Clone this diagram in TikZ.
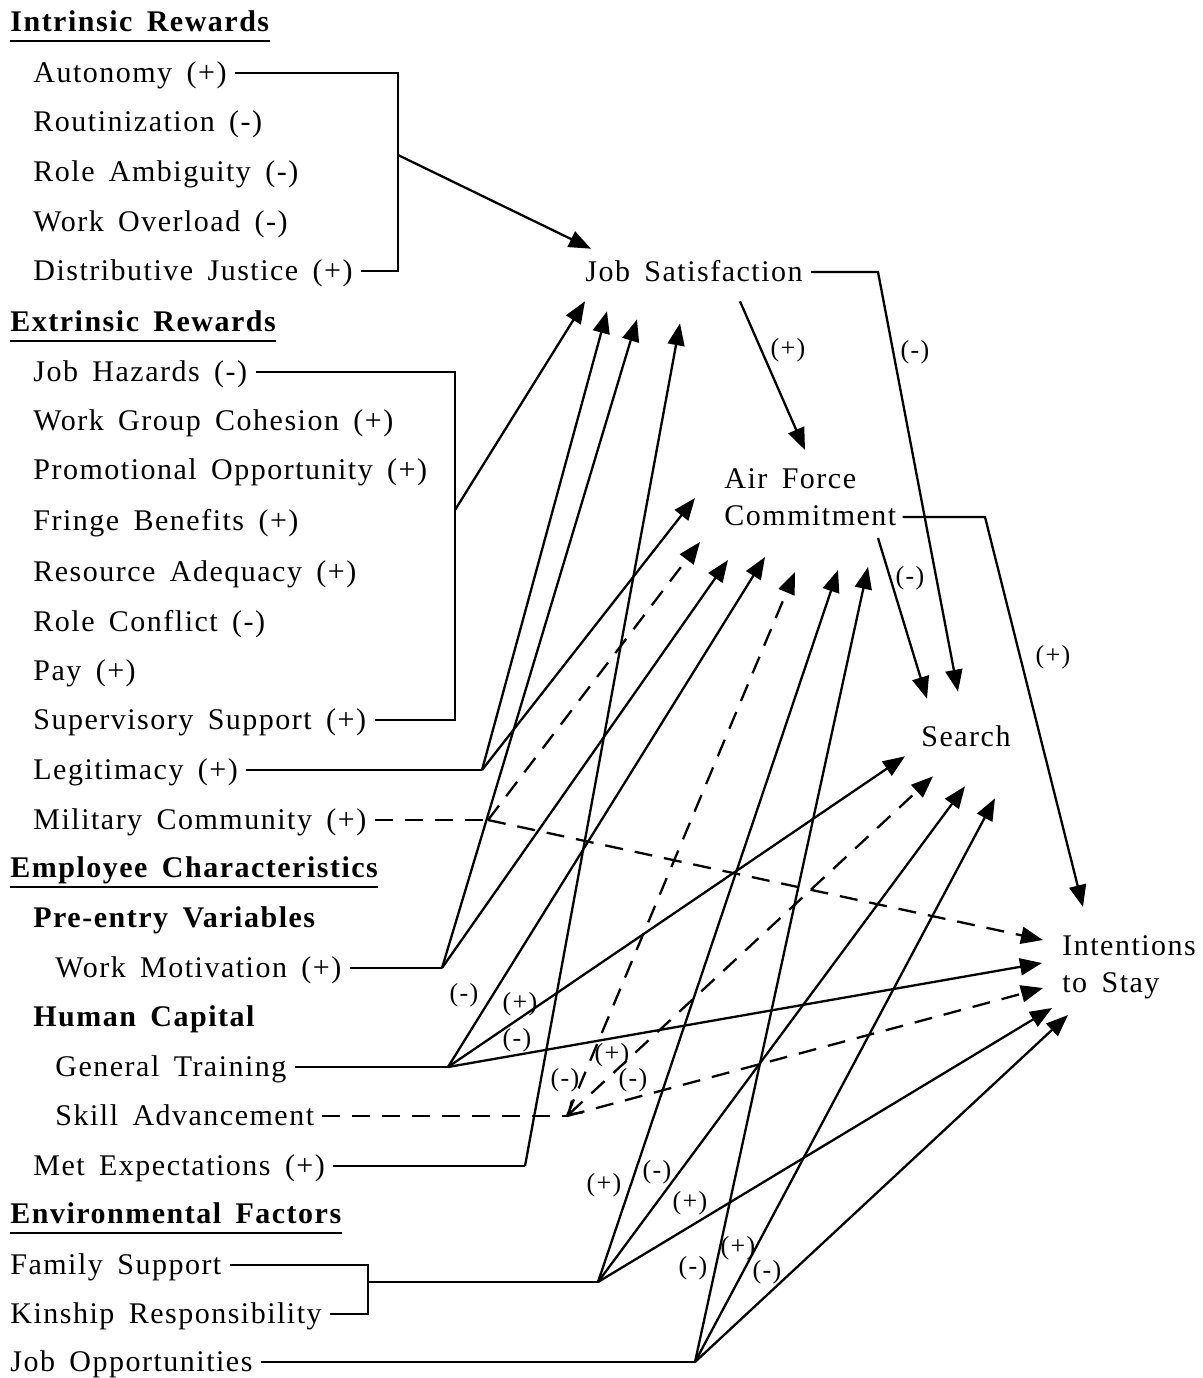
\documentclass[tikz,border=0pt]{standalone}
\usepackage{fontspec}
\setmainfont{Liberation Serif}[LetterSpace=5,WordSpace=1.6]
\usetikzlibrary{arrows.meta}

\begin{document}
\begin{tikzpicture}[x=0.5pt,y=-0.5pt,
  every node/.style={font=\fontsize{15}{18.5}\selectfont},
  lbl/.style={anchor=west,inner xsep=4pt,inner ysep=0pt,text height=9.9pt,text depth=0pt},
  head/.style={lbl,font=\fontsize{15}{18.5}\selectfont\bfseries},
  var/.style={inner sep=0pt,align=left},
  sgn/.style={inner sep=0pt,font=\fontsize{13}{14}\selectfont},
  wire/.style={line width=1.15pt},
  arr/.style={wire,-{Triangle[length=11pt,width=8.5pt]}},
  dsh/.style={dash pattern=on 9pt off 6pt}]
\useasboundingbox (0,0) rectangle (1203,1378);

% left column
\node[head] (hir) at (2,22) {Intrinsic Rewards};
\node[lbl] (auto) at (25,73) {Autonomy (+)};
\node[lbl] (rout) at (25,122) {Routinization (-)};
\node[lbl] (ramb) at (25,172) {Role Ambiguity (-)};
\node[lbl] (wover) at (25,222) {Work Overload (-)};
\node[lbl] (djust) at (25,271) {Distributive Justice (+)};
\node[head] (her) at (2,322) {Extrinsic Rewards};
\node[lbl] (haz) at (25,372) {Job Hazards (-)};
\node[lbl] (wgc) at (25,421) {Work Group Cohesion (+)};
\node[lbl] (promo) at (25,470) {Promotional Opportunity (+)};
\node[lbl] (fringe) at (25,521) {Fringe Benefits (+)};
\node[lbl] (resad) at (25,572) {Resource Adequacy (+)};
\node[lbl] (rconf) at (25,622) {Role Conflict (-)};
\node[lbl] (pay) at (25,671) {Pay (+)};
\node[lbl] (supsup) at (25,720) {Supervisory Support (+)};
\node[lbl] (legit) at (25,770) {Legitimacy (+)};
\node[lbl] (milcom) at (25,820) {Military Community (+)};
\node[head] (hec) at (2,868) {Employee Characteristics};
\node[head] (hpre) at (25,918) {Pre-entry Variables};
\node[lbl] (wmot) at (47,968) {Work Motivation (+)};
\node[head] (hhc) at (25,1017) {Human Capital};
\node[lbl] (gtrain) at (47,1067) {General Training};
\node[lbl] (skill) at (47,1116) {Skill Advancement};
\node[lbl] (metexp) at (25,1166) {Met Expectations (+)};
\node[head] (hef) at (2,1214) {Environmental Factors};
\node[lbl] (famsup) at (2,1265) {Family Support};
\node[lbl] (kin) at (2,1314) {Kinship Responsibility};
\node[lbl] (jobopp) at (2,1362) {Job Opportunities};

\foreach \h in {hir,her,hec,hef}
  \draw[wire] ([shift={(8,9)}]\h.south west) -- ([shift={(-8,9)}]\h.south east);

% outcome variables
\node[lbl] (js) at (577,272) {Job Satisfaction};
\node[var,anchor=south west] (afc) at (724,526) {Air Force\\Commitment};
\node[lbl] (srch) at (913,737) {Search};
\node[var,anchor=north west] (intn) at (1062,935) {Intentions\\to Stay};

% brackets and branch points
\coordinate (irb) at (398,155);
\coordinate (erb) at (455,510);
\coordinate (legc) at (482,770);
\coordinate (milc) at (488,820);
\coordinate (wmc) at (442,968);
\coordinate (gtc) at (448,1067);
\coordinate (skc) at (567,1116);
\coordinate (mec) at (525,1166);
\coordinate (fkb) at (368,1282);
\coordinate (fkc) at (598,1282);
\coordinate (joc) at (695,1362);
\coordinate (jsk) at (878,272);
\coordinate (afk) at (985,517);

\draw[wire] (auto.east) -| (irb) |- (djust.east);
\draw[wire] (haz.east) -| (erb) |- (supsup.east);
\draw[wire] (legit.east) -- (legc);
\draw[wire,dsh] (milcom.east) -- (milc);
\draw[wire] (wmot.east) -- (wmc);
\draw[wire] (gtrain.east) -- (gtc);
\draw[wire,dsh] (skill.east) -- (skc);
\draw[wire] (metexp.east) -- (mec);
\draw[wire] (famsup.east) -| (fkb) |- (kin.east);
\draw[wire] (fkb) -- (fkc);
\draw[wire] (jobopp.east) -- (joc);

% into job satisfaction
\draw[arr] (irb) -- ([shift={(14,-13)}]js.north west);
\draw[arr] (erb) -- ([shift={(8,19)}]js.south west);
\draw[arr] (legc) -- ([shift={(30,29)}]js.south west);
\draw[arr] (wmc) -- ([shift={(60,37)}]js.south west);
\draw[arr] (mec) -- ([shift={(103,41)}]js.south west);

% into air force commitment
\draw[arr] ([shift={(163,19)}]js.south west) -- ([shift={(81,-76)}]afc.south west);
\draw[arr] (legc) -- ([shift={(-29,-28)}]afc.south west);
\draw[arr,dsh] (milc) -- ([shift={(-24,16)}]afc.south west);
\draw[arr] (wmc) -- ([shift={(4,34)}]afc.south west);
\draw[arr] (gtc) -- ([shift={(41,31)}]afc.south west);
\draw[arr,dsh] (skc) -- ([shift={(71,46)}]afc.south west);
\draw[arr] (fkc) -- ([shift={(114,44)}]afc.south west);
\draw[arr] (joc) -- ([shift={(144,41)}]afc.south west);

% into search
\draw[arr] (js.east) -- (jsk) -- ([shift={(45,-35)}]srch.north west);
\draw[arr] ([shift={(154,12)}]afc.south west) -- ([shift={(14,-28)}]srch.north west);
\draw[arr] (gtc) -- ([shift={(-8,9)}]srch.south west);
\draw[wire,dsh,{Straight Barb[length=6pt,width=8pt]}-{Triangle[length=11pt,width=8.5pt]}] (skc) -- ([shift={(20,29)}]srch.south west);
\draw[arr] (fkc) -- ([shift={(52,39)}]srch.south west);
\draw[arr] (joc) -- ([shift={(82,51)}]srch.south west);

% into intentions to stay
\draw[arr] ([shift={(6,-9)}]afc.south east) -- (afk) -- ([shift={(21,-28)}]intn.north west);
\draw[arr,dsh] (milc) -- ([shift={(-19,5)}]intn.north west);
\draw[arr] (gtc) -- ([shift={(-20,28)}]intn.north west);
\draw[arr,dsh] (skc) -- ([shift={(-19,53)}]intn.north west);
\draw[arr] (fkc) -- ([shift={(-10,73)}]intn.north west);
\draw[arr] (joc) -- ([shift={(6,80)}]intn.north west);

% path signs
\node[sgn] (s1) at (788,350) {(+)};
\node[sgn] (s2) at (915,352) {(-)};
\node[sgn] (s3) at (910,578) {(-)};
\node[sgn] (s4) at (1053,657) {(+)};
\node[sgn] (s5) at (464,995) {(-)};
\node[sgn] (s6) at (520,1004) {(+)};
\node[sgn] (s7) at (517,1040) {(-)};
\node[sgn] (s8) at (565,1080) {(-)};
\node[sgn] (s9) at (612,1055) {(+)};
\node[sgn] (s10) at (633,1080) {(-)};
\node[sgn] (s11) at (604,1185) {(+)};
\node[sgn] (s12) at (657,1172) {(-)};
\node[sgn] (s13) at (690,1203) {(+)};
\node[sgn] (s14) at (693,1268) {(-)};
\node[sgn] (s15) at (738,1248) {(+)};
\node[sgn] (s16) at (767,1272) {(-)};
\end{tikzpicture}
\end{document}
